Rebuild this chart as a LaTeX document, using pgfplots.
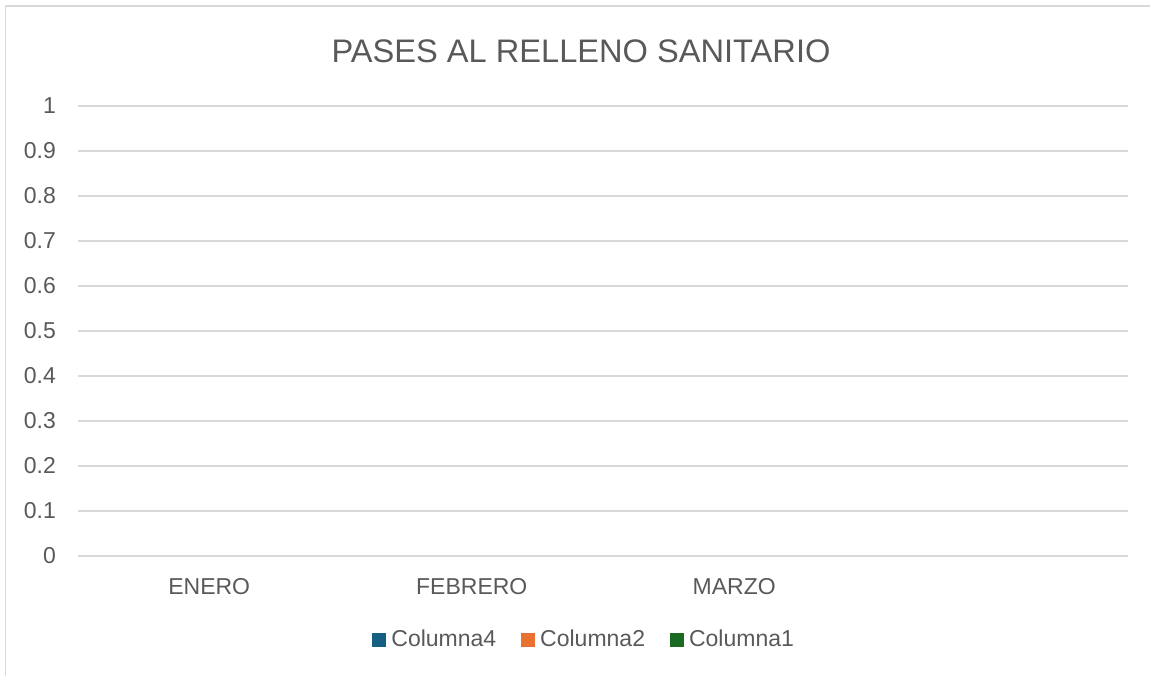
\documentclass[border=0pt]{standalone}
\usepackage{fontspec}
\setmainfont{Liberation Sans}
\usepackage{pgfplots}
\pgfplotsset{compat=1.18}
\definecolor{txt}{HTML}{595959}
\definecolor{gridc}{HTML}{D9D9D9}
\definecolor{cola}{HTML}{156082}
\definecolor{colb}{HTML}{E97132}
\definecolor{colc}{HTML}{196B24}
\begin{document}
\begin{tikzpicture}
\useasboundingbox (0,0) rectangle (575pt,337.5pt);
\clip (0,0) rectangle (575pt,337.5pt);
% chart frame (right and bottom edges lie outside the picture)
\draw[gridc, line width=0.75pt] (2.75pt,-10pt) -- (2.75pt,334.5pt) -- (600pt,334.5pt);
\node[txt, font=\fontsize{16.3}{19}\selectfont] at (290.5pt,312pt) {PASES AL RELLENO SANITARIO};
\begin{axis}[
    at={(39pt,59.5pt)}, anchor=south west,
    scale only axis, width=525pt, height=225pt,
    xmin=-0.5, xmax=3.5, ymin=0, ymax=1,
    xtick={0,1,2}, xticklabels={ENERO,FEBRERO,MARZO},
    ytick={0,0.1,0.2,0.3,0.4,0.5,0.6,0.7,0.8,0.9,1},
    /pgf/number format/fixed, /pgf/number format/precision=1,
    /pgf/number format/assume math mode=true,
    ymajorgrids=true,
    grid style={gridc, line width=0.75pt},
    axis line style={draw=none},
    major tick length=0pt,
    tick label style={txt, font=\fontsize{11.5}{13}\selectfont},
    xticklabel style={yshift=-7.5pt},
    yticklabel style={xshift=-7.5pt},
    ybar, bar width=20pt,
    legend columns=-1,
    legend style={at={(0.483,-0.187)}, anchor=center, draw=none, fill=none,
        font=\fontsize{11.5}{13}\selectfont, text=txt,
        /tikz/every even column/.append style={column sep=10.5pt},
        /tikz/every odd column/.append style={column sep=0.5pt}},
]
% the table behind the chart holds no values yet: empty columns
\addplot[draw=none, fill=none, legend image code/.code={\fill[cola] (0pt,-3.5pt) rectangle (7pt,3.5pt);}] coordinates {(0,0) (1,0) (2,0)};
\addplot[draw=none, fill=none, legend image code/.code={\fill[colb] (0pt,-3.5pt) rectangle (7pt,3.5pt);}] coordinates {(0,0) (1,0) (2,0)};
\addplot[draw=none, fill=none, legend image code/.code={\fill[colc] (0pt,-3.5pt) rectangle (7pt,3.5pt);}] coordinates {(0,0) (1,0) (2,0)};
\legend{Columna4, Columna2, Columna1}
\end{axis}
\end{tikzpicture}
\end{document}
